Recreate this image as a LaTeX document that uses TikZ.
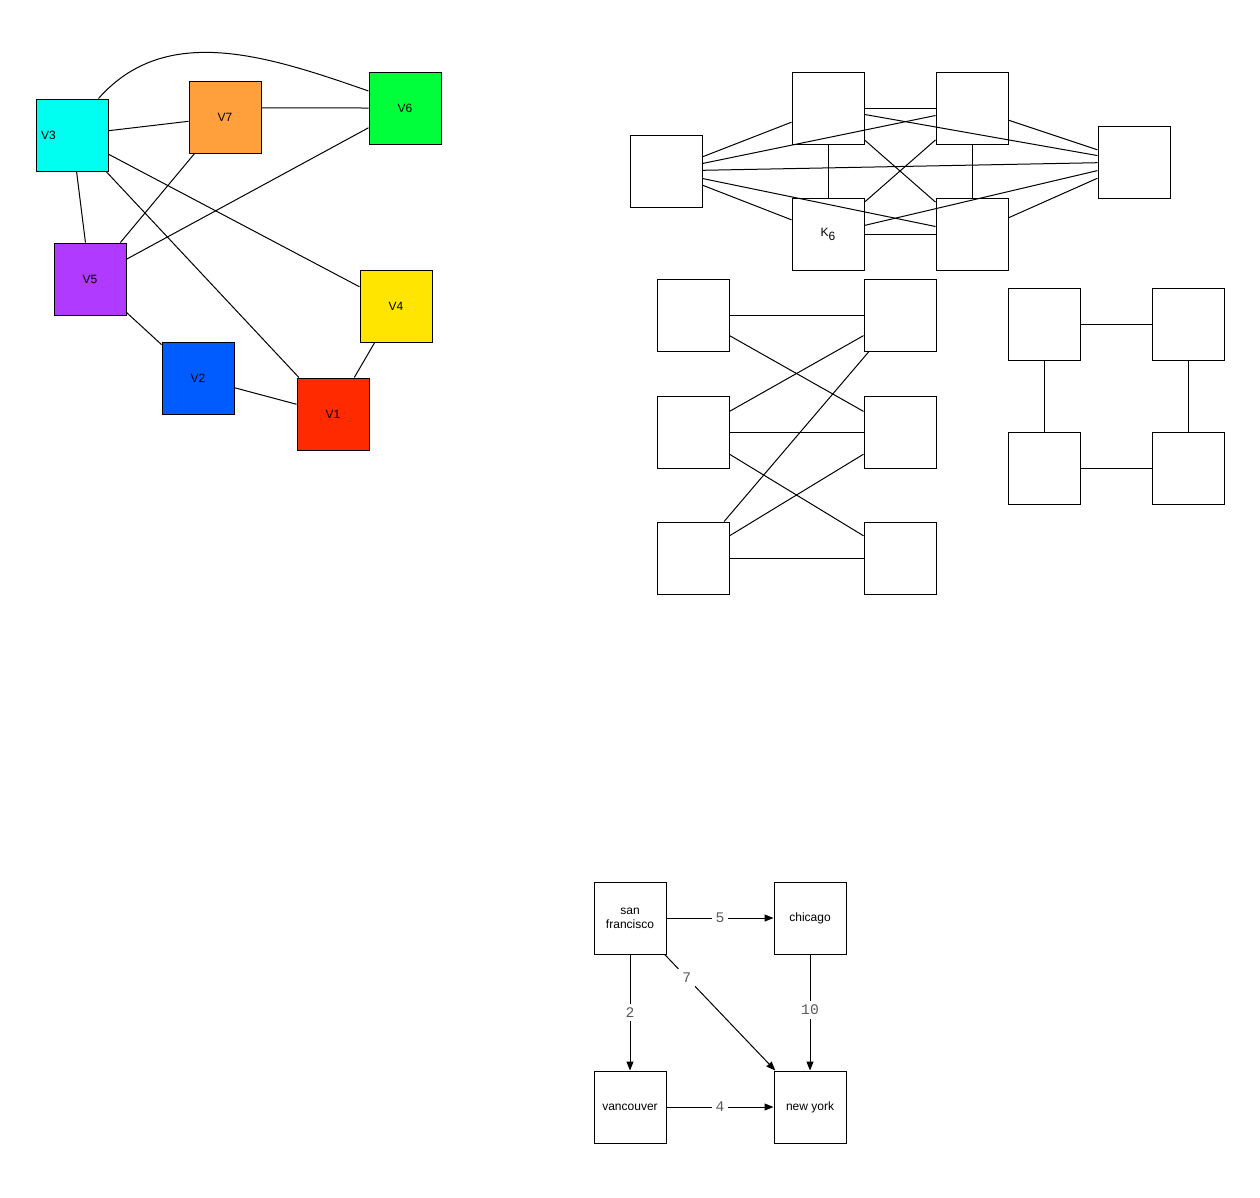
\documentclass[tikz,border=0pt]{standalone}
\usepackage{fontspec}
\setmainfont{Liberation Sans}
\newfontfamily\labelmono{Liberation Mono}
\usetikzlibrary{arrows.meta}
\definecolor{cVthree}{HTML}{00FFF0}
\definecolor{cVseven}{HTML}{FFA03C}
\definecolor{cVsix}{HTML}{00FF3B}
\definecolor{cVfive}{HTML}{B03AFF}
\definecolor{cVfour}{HTML}{FFE500}
\definecolor{cVtwo}{HTML}{005CFF}
\definecolor{cVone}{HTML}{FF2A00}
\definecolor{labgray}{HTML}{5A5A5A}
\begin{document}
\begin{tikzpicture}[x=0.75pt,y=-0.75pt,
 box/.style={draw=black, line width=0.75pt, minimum size=54pt, inner sep=0pt, font=\fontsize{9}{10.5}\selectfont, align=center},
 edge/.style={draw=black, line width=0.75pt},
 arr/.style={edge, -{Triangle[length=6.75pt,width=5.25pt]}},
 wlab/.style={fill=white, inner sep=3pt, font=\labelmono\fontsize{11}{12}\selectfont, text=labgray}]
\useasboundingbox (0,0) rectangle (1260,1197);

% coloured graph
\node[box, fill=cVthree, label={[anchor=west, inner sep=0pt, xshift=4pt, font=\fontsize{9}{10.5}\selectfont]west:V3}] (v3) at (72,135) {};
\node[box, fill=cVseven] (v7) at (225,117) {V7};
\node[box, fill=cVsix] (v6) at (405,108) {V6};
\node[box, fill=cVfive] (v5) at (90,279) {V5};
\node[box, fill=cVfour] (v4) at (396,306) {V4};
\node[box, fill=cVtwo] (v2) at (198,378) {V2};
\node[box, fill=cVone] (v1) at (333,414) {V1};

\draw[edge] (v3.54) .. controls (166,22) and (268,56) .. (v6.155);
\draw[edge] (v3) -- (v7);
\draw[edge] (v7.14) -- (v6.west);
\draw[edge] (v3) -- (v5);
\draw[edge] (v7) -- (v5);
\draw[edge] (v6) -- (v5);
\draw[edge] (v3) -- (v4);
\draw[edge] (v3) -- (v1);
\draw[edge] (v5) -- (v2);
\draw[edge] (v2) -- (v1);
\draw[edge] (v4) -- (v1);

% K6
\node[box] (ka) at (666,171) {};
\node[box] (kb) at (828,108) {};
\node[box] (kc) at (972,108) {};
\node[box] (kd) at (1134,162) {};
\node[box] (ke) at (828,234) {K\raisebox{-3pt}{6}};
\node[box] (kf) at (972,234) {};
\foreach \a/\b in {ka/kb,ka/kc,ka/kd,ka/ke,ka/kf,kb/kc,kb/kd,kb/ke,kb/kf,kc/kd,kc/ke,kc/kf,kd/ke,kd/kf,ke/kf}
  \draw[edge] (\a) -- (\b);

% bipartite graph
\node[box] (l1) at (693,315) {};
\node[box] (r1) at (900,315) {};
\node[box] (l2) at (693,432) {};
\node[box] (r2) at (900,432) {};
\node[box] (l3) at (693,558) {};
\node[box] (r3) at (900,558) {};
\foreach \a/\b in {l1/r1,l1/r2,l2/r1,l2/r2,l2/r3,l3/r1,l3/r2,l3/r3}
  \draw[edge] (\a) -- (\b);

% square
\node[box] (s1) at (1044,324) {};
\node[box] (s2) at (1188,324) {};
\node[box] (s3) at (1044,468) {};
\node[box] (s4) at (1188,468) {};
\foreach \a/\b in {s1/s2,s1/s3,s2/s4,s3/s4}
  \draw[edge] (\a) -- (\b);

% weighted digraph
\node[box] (sf) at (630,918) {san\\francisco};
\node[box] (chi) at (810,918) {chicago};
\node[box] (van) at (630,1107) {vancouver};
\node[box] (ny) at (810,1107) {new york};
\draw[arr] (sf) -- node[wlab]{5} (chi);
\draw[arr] (sf) -- node[wlab]{2} (van);
\draw[arr] (sf) -- node[wlab, pos=0.2]{7} (ny);
\draw[arr] (chi) -- node[wlab, yshift=2pt]{10} (ny);
\draw[arr] (van) -- node[wlab]{4} (ny);
\end{tikzpicture}
\end{document}
